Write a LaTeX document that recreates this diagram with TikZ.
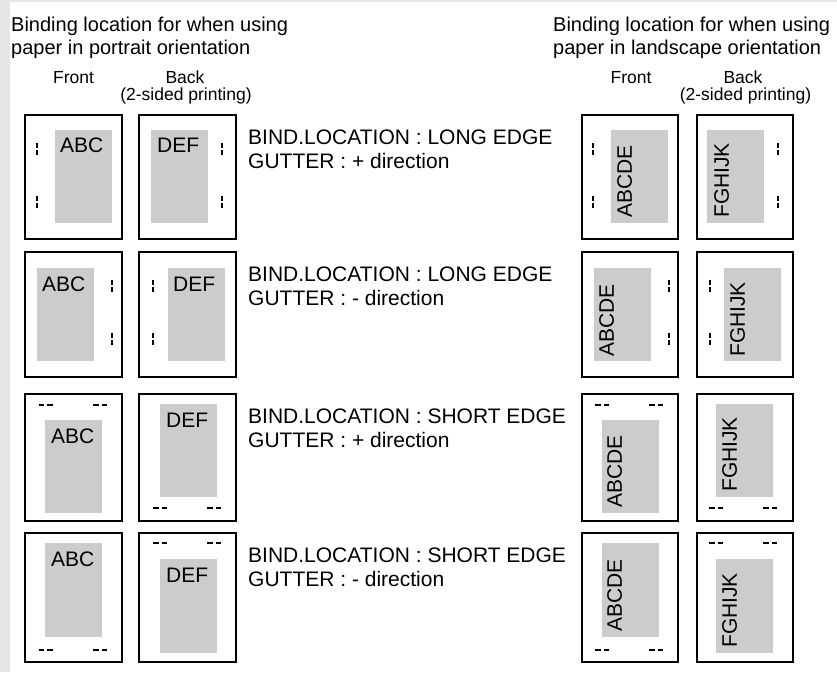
\documentclass[tikz,border=0pt]{standalone}
\usepackage{fontspec}
\setmainfont{Liberation Sans}
\definecolor{areagray}{HTML}{CCCCCC}
\definecolor{bggray}{HTML}{E6E6E6}
\newcommand{\gvmark}[2]{\draw[gm,dash pattern=on 5pt off 2pt] (#1,#2-6) -- (#1,#2+6);}
\newcommand{\ghmark}[2]{\draw[gm,dash pattern=on 5.5pt off 3pt] (#1-7,#2) -- (#1+7,#2);}
\begin{document}
\begin{tikzpicture}[x=1pt,y=-1pt,
  pagebox/.style={draw=black,line width=2.6pt},
  printarea/.style={fill=areagray},
  big/.style={font=\fontsize{21}{24}\selectfont,inner sep=0pt},
  head/.style={font=\fontsize{20}{23}\selectfont,inner sep=0pt},
  small/.style={font=\fontsize{17.5}{18}\selectfont,inner sep=0pt},
  gm/.style={line width=1.2pt,draw=black}]
\useasboundingbox (0,0) rectangle (837,672);
\fill[bggray] (0,0) rectangle (837,672);
\fill[white] (10,2) rectangle (837,672);

% headings
\node[head,anchor=base west] (hl1) at (11,31) {Binding location for when using};
\node[head,anchor=base west] (hl2) at (11,54) {paper in portrait orientation};
\node[head,anchor=base west] (hr1) at (553,31) {Binding location for when using};
\node[head,anchor=base west] (hr2) at (553,54) {paper in landscape orientation};

\node[small,anchor=base] (fl) at (73.5,83) {Front};
\node[small,anchor=base] (bl) at (185,83) {Back};
\node[small,anchor=base] (bl2) at (186,100) {(2-sided printing)};
\node[small,anchor=base] (fr) at (631,83) {Front};
\node[small,anchor=base] (br) at (743,83) {Back};
\node[small,anchor=base] (br2) at (745.5,100) {(2-sided printing)};

% ---------- row 1 (top 115, bottom 239)
\fill[printarea] (55,130) rectangle (112,223);
\fill[printarea] (151,130) rectangle (208,223);
\fill[printarea] (611,130) rectangle (668,223);
\fill[printarea] (707,130) rectangle (764,223);
\draw[pagebox] (25,115) rectangle (122,239);
\draw[pagebox] (139,115) rectangle (236,239);
\draw[pagebox] (582,115) rectangle (678,239);
\draw[pagebox] (697,115) rectangle (793,239);
\node[big,anchor=north west] (t1a) at (60,138) {ABC};
\node[big,anchor=north west] (t1b) at (157,138) {DEF};
\node[big,anchor=north west,rotate=90] (t1c) at (617,218) {ABCDE};
\node[big,anchor=north west,rotate=90] (t1d) at (714,218) {FGHIJK};
\gvmark{37}{149}\gvmark{37}{202}
\gvmark{222}{149}\gvmark{222}{202}
\gvmark{593}{149}\gvmark{593}{202}
\gvmark{778}{149}\gvmark{778}{202}
\node[big,anchor=base west] (r1a) at (248,144) {BIND.LOCATION : LONG EDGE};
\node[big,anchor=base west] (r1b) at (248,168) {GUTTER : + direction};

% ---------- row 2 (top 252, bottom 377)
\fill[printarea] (37,268) rectangle (94,361);
\fill[printarea] (168,268) rectangle (225,361);
\fill[printarea] (594,268) rectangle (651,361);
\fill[printarea] (724,268) rectangle (781,361);
\draw[pagebox] (25,252) rectangle (122,377);
\draw[pagebox] (139,252) rectangle (236,377);
\draw[pagebox] (582,252) rectangle (678,377);
\draw[pagebox] (697,252) rectangle (793,377);
\node[big,anchor=north west] (t2a) at (42,277) {ABC};
\node[big,anchor=north west] (t2b) at (173,277) {DEF};
\node[big,anchor=north west,rotate=90] (t2c) at (599,357) {ABCDE};
\node[big,anchor=north west,rotate=90] (t2d) at (730,357) {FGHIJK};
\gvmark{112}{286}\gvmark{112}{339}
\gvmark{153}{286}\gvmark{153}{339}
\gvmark{669}{286}\gvmark{669}{339}
\gvmark{710}{286}\gvmark{710}{339}
\node[big,anchor=base west] (r2a) at (248,281) {BIND.LOCATION : LONG EDGE};
\node[big,anchor=base west] (r2b) at (248,305) {GUTTER : - direction};

% ---------- row 3 (top 394, bottom 521)
\fill[printarea] (45,420) rectangle (102,513);
\fill[printarea] (160,404) rectangle (217,497);
\fill[printarea] (602,420) rectangle (659,513);
\fill[printarea] (716,404) rectangle (773,497);
\draw[pagebox] (25,394) rectangle (122,521);
\draw[pagebox] (139,394) rectangle (236,521);
\draw[pagebox] (582,394) rectangle (678,521);
\draw[pagebox] (697,394) rectangle (793,521);
\node[big,anchor=north west] (t3a) at (51,429) {ABC};
\node[big,anchor=north west] (t3b) at (166,413) {DEF};
\node[big,anchor=north west,rotate=90] (t3c) at (607,508) {ABCDE};
\node[big,anchor=north west,rotate=90] (t3d) at (722,492) {FGHIJK};
\ghmark{45.5}{405}\ghmark{100}{405}
\ghmark{160}{508}\ghmark{214}{508}
\ghmark{602}{405}\ghmark{656}{405}
\ghmark{716}{508}\ghmark{770}{508}
\node[big,anchor=base west] (r3a) at (248,423) {BIND.LOCATION : SHORT EDGE};
\node[big,anchor=base west] (r3b) at (248,447) {GUTTER : + direction};

% ---------- row 4 (top 533, bottom 662)
\fill[printarea] (45,543) rectangle (102,637);
\fill[printarea] (160,559) rectangle (217,653);
\fill[printarea] (602,543) rectangle (659,637);
\fill[printarea] (716,559) rectangle (773,653);
\draw[pagebox] (25,533) rectangle (122,662);
\draw[pagebox] (139,533) rectangle (236,662);
\draw[pagebox] (582,533) rectangle (678,662);
\draw[pagebox] (697,533) rectangle (793,662);
\node[big,anchor=north west] (t4a) at (51,552) {ABC};
\node[big,anchor=north west] (t4b) at (166,568) {DEF};
\node[big,anchor=north west,rotate=90] (t4c) at (607,632) {ABCDE};
\node[big,anchor=north west,rotate=90] (t4d) at (722,648) {FGHIJK};
\ghmark{45.5}{650}\ghmark{100}{650}
\ghmark{160}{543}\ghmark{214}{543}
\ghmark{602}{650}\ghmark{656}{650}
\ghmark{716}{543}\ghmark{770}{543}
\node[big,anchor=base west] (r4a) at (248,562) {BIND.LOCATION : SHORT EDGE};
\node[big,anchor=base west] (r4b) at (248,586) {GUTTER : - direction};
\end{tikzpicture}
\end{document}
